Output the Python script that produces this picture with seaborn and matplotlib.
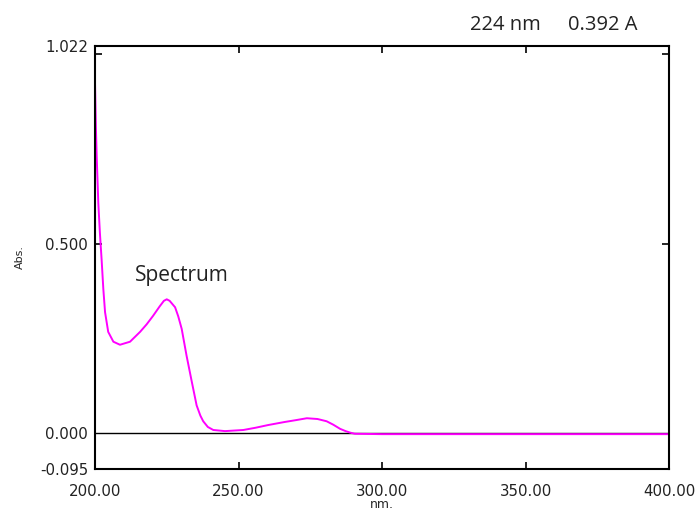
import numpy as np
import pandas as pd
import matplotlib
matplotlib.use("Agg")
import matplotlib.pyplot as plt
import seaborn as sns

# Spectrum values
wavelength = [200.0, 200.3, 200.6, 201.15, 201.7, 202.3, 202.9, 203.5, 204.6, 206.4,
              208.7, 212.2, 215.7, 218.0, 220.2, 222.5, 224.0, 225.0, 226.0, 227.9,
              229.0, 230.2, 231.9, 233.7, 235.4, 236.7, 237.7, 239.3, 241.2, 245.3,
              251.7, 256.0, 260.3, 266.0, 270.0, 273.8, 277.5, 280.7, 283.0, 285.4,
              287.3, 288.9, 290.5, 300.0, 320.0, 350.0, 380.0, 400.0]
absorbance = [0.924, 0.81, 0.728, 0.607, 0.529, 0.458, 0.38, 0.319, 0.267, 0.241,
              0.233, 0.241, 0.267, 0.287, 0.309, 0.334, 0.349, 0.353, 0.349, 0.332,
              0.308, 0.275, 0.204, 0.136, 0.073, 0.046, 0.031, 0.016, 0.008, 0.005,
              0.008, 0.014, 0.021, 0.029, 0.034, 0.039, 0.037, 0.031, 0.022, 0.011,
              0.005, 0.001, -0.002, -0.003, -0.003, -0.003, -0.003, -0.003]

x_ticks = [200, 250, 300, 350, 400]
x_labels = ["200.00", "250.00", "300.00", "350.00", "400.00"]
y_ticks = [-0.095, 0.0, 0.5, 1.022]
y_labels = ["-0.095", "0.000", "0.500", "1.022"]

df = pd.DataFrame({"nm": wavelength, "abs": absorbance})

sns.set_style("white")
plt.rcParams["font.family"] = ["DejaVu Sans"]

fig = plt.figure(figsize=(6.95, 5.11), dpi=100)
ax = fig.add_axes([0.1367, 0.0822, 0.826, 0.828])

sns.lineplot(data=df, x="nm", y="abs", color="#ff00ff", linewidth=1.4, ax=ax)
ax.axhline(0, color="black", linewidth=1.0, zorder=0)

ax.set_xlim(200, 400)
ax.set_ylim(-0.095, 1.022)

ax.set_xticks(x_ticks)
ax.set_xticklabels(x_labels, fontsize=10.8, color="#222222")
ax.set_yticks(y_ticks)
ax.set_yticklabels(y_labels, fontsize=10.8, color="#222222")
ax.tick_params(axis="x", which="major", length=0, pad=11)
ax.tick_params(axis="y", which="major", length=0, pad=5)

# small inward ticks like the instrument printout
ax.xaxis.remove_overlapping_locs = False
ax.yaxis.remove_overlapping_locs = False
ax.set_xticks([250, 300, 350], minor=True)
ax.set_yticks([0.5, 1.0], minor=True)
ax.tick_params(axis="both", which="minor", direction="in", length=5, width=1.2,
               bottom=True, left=True, top=True, right=True, color="black")

for s in ax.spines.values():
    s.set_color("black")
    s.set_linewidth(1.5)

ax.set_xlabel("nm.", fontsize=9, labelpad=-1)
ax.set_ylabel("Abs.", fontsize=8, labelpad=11)

ax.text(213.9, 0.40, "Spectrum", fontsize=15, va="baseline",
        family=["Open Sans", "DejaVu Sans"], color="#222222")
fig.text(0.676, 0.941, "224 nm", fontsize=14.5, va="baseline",
         family=["Open Sans", "DejaVu Sans"], color="#222222")
fig.text(0.817, 0.941, "0.392 A", fontsize=14.5, va="baseline",
         family=["Open Sans", "DejaVu Sans"], color="#222222")

fig.savefig("out.png", dpi=100)
